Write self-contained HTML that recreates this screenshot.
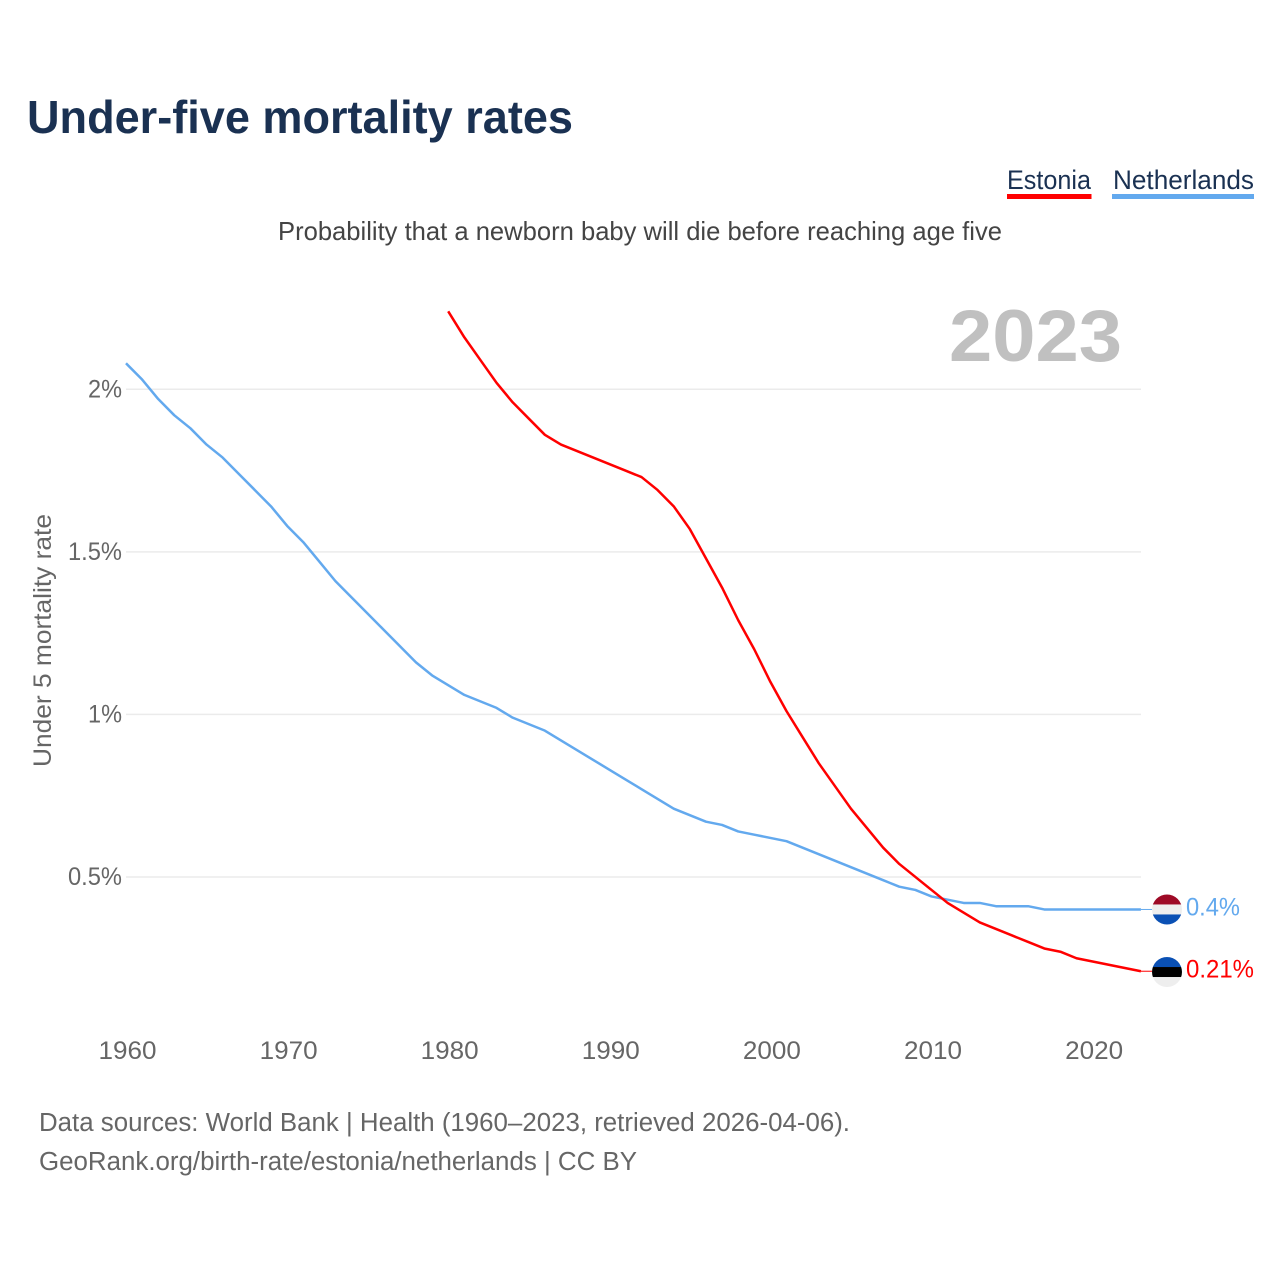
<!DOCTYPE html>
<html lang="en">
<head>
<meta charset="utf-8">
<title>Under-five mortality rates</title>
<style>
  html, body { margin: 0; padding: 0; background: #fff; }
  svg { display: block; font-family: "Liberation Sans", sans-serif; }
  .tick { font-size: 25px; fill: #666; }
  .foot { font-size: 25.5px; fill: #666; }
</style>
</head>
<body>
<svg id="chart" xmlns="http://www.w3.org/2000/svg" width="1280" height="1280" viewBox="0 0 1280 1280">
  <rect width="1280" height="1280" fill="#fff"/>
  <text x="27" y="133" font-size="46" font-weight="700" fill="#1a3152" textLength="546" lengthAdjust="spacingAndGlyphs">Under-five mortality rates</text>

  <g>
    <text x="1007" y="189" font-size="27" fill="#1a3152" textLength="84" lengthAdjust="spacingAndGlyphs">Estonia</text>
    <rect x="1007" y="194" width="84.5" height="5" fill="#ff0000"/>
  </g>
  <g>
    <text x="1113" y="189" font-size="27" fill="#1a3152" textLength="141" lengthAdjust="spacingAndGlyphs">Netherlands</text>
    <rect x="1112" y="194" width="142" height="5" fill="#63a9ee"/>
  </g>

  <text x="278" y="240" font-size="26" fill="#444" textLength="724" lengthAdjust="spacingAndGlyphs">Probability that a newborn baby will die before reaching age five</text>
  <text x="949" y="361" font-size="73" font-weight="700" fill="#c0c0c0" textLength="173" lengthAdjust="spacingAndGlyphs">2023</text>
  <text transform="translate(51 767) rotate(-90)" font-size="25" fill="#666" textLength="253" lengthAdjust="spacingAndGlyphs">Under 5 mortality rate</text>

  <g id="grid"></g>
  <g id="yticks"></g>
  <g id="xticks"></g>
  <g id="series"></g>

  <defs>
    <clipPath id="clip-nl"><circle id="clip-nl-c" r="15"/></clipPath>
    <clipPath id="clip-ee"><circle id="clip-ee-c" r="15"/></clipPath>
  </defs>
  <g id="ends"></g>

  <text class="foot" x="39" y="1131" textLength="811" lengthAdjust="spacingAndGlyphs">Data sources: World Bank | Health (1960–2023, retrieved 2026-04-06).</text>
  <text class="foot" x="39" y="1170" textLength="598" lengthAdjust="spacingAndGlyphs">GeoRank.org/birth-rate/estonia/netherlands | CC BY</text>
</svg>
<script>
const yearStart = 1960;
const netherlandsValues = [2.08,2.03,1.97,1.92,1.88,1.83,1.79,1.74,1.69,1.64,1.58,1.53,1.47,1.41,1.36,1.31,1.26,1.21,1.16,1.12,1.09,1.06,1.04,1.02,0.99,0.97,0.95,0.92,0.89,0.86,0.83,0.80,0.77,0.74,0.71,0.69,0.67,0.66,0.64,0.63,0.62,0.61,0.59,0.57,0.55,0.53,0.51,0.49,0.47,0.46,0.44,0.43,0.42,0.42,0.41,0.41,0.41,0.40,0.40,0.40,0.40,0.40,0.40,0.40];
const estoniaStart = 1980;
const estoniaValues = [2.24,2.16,2.09,2.02,1.96,1.91,1.86,1.83,1.81,1.79,1.77,1.75,1.73,1.69,1.64,1.57,1.48,1.39,1.29,1.20,1.10,1.01,0.93,0.85,0.78,0.71,0.65,0.59,0.54,0.50,0.46,0.42,0.39,0.36,0.34,0.32,0.30,0.28,0.27,0.25,0.24,0.23,0.22,0.21];
const yTickValues = [0.5, 1, 1.5, 2];
const yTickLabels = ["0.5%", "1%", "1.5%", "2%"];
const xTickYears = [1960, 1970, 1980, 1990, 2000, 2010, 2020];
const netherlandsEndLabel = "0.4%";
const estoniaEndLabel = "0.21%";

const NS = "http://www.w3.org/2000/svg";
const xScale = function (year) { return 126 + (year - 1960) * 16.11; };
const yScale = function (v) { return 1039.5 - v * 325.1; };

function make(tag, attrs, parent) {
  const el = document.createElementNS(NS, tag);
  for (const k in attrs) el.setAttribute(k, attrs[k]);
  parent.appendChild(el);
  return el;
}

const gridGroup = document.getElementById("grid");
const yTickGroup = document.getElementById("yticks");
yTickValues.forEach(function (v, i) {
  const line = make("line", { x1: 126, x2: 1141, y1: yScale(v), y2: yScale(v), stroke: "#ebebeb", "stroke-width": 1.5 }, gridGroup);
  
  
  const label = yTickLabels[i];
  const t = make("text", { class: "tick", x: 122, y: yScale(v) + 8, "text-anchor": "end", textLength: label.length > 2 ? 54 : 34, lengthAdjust: "spacingAndGlyphs" }, yTickGroup);
  t.textContent = label;
  
  
});

const xTickGroup = document.getElementById("xticks");
xTickYears.forEach(function (yr) {
  const t = make("text", { class: "tick", x: xScale(yr) + 1.5, y: 1059, "text-anchor": "middle", textLength: 58, lengthAdjust: "spacingAndGlyphs" }, xTickGroup);
  t.textContent = String(yr);
  
  
});

function linePoints(values, start) {
  return values.map(function (v, i) {
    return xScale(start + i).toFixed(2) + "," + yScale(v).toFixed(2);
  }).join(" ");
}

const seriesGroup = document.getElementById("series");
const nlLine = make("polyline", { points: linePoints(netherlandsValues, yearStart), fill: "none", stroke: "#63a9ee", "stroke-width": 2.5, "stroke-linejoin": "round" }, seriesGroup);


const eeLine = make("polyline", { points: linePoints(estoniaValues, estoniaStart), fill: "none", stroke: "#ff0000", "stroke-width": 2.5, "stroke-linejoin": "round" }, seriesGroup);



const endGroup = document.getElementById("ends");
const lastYear = yearStart + netherlandsValues.length - 1;
const flagX = 1167;

function addFlag(parent, clipId, cy, colors) {
  document.getElementById(clipId + "-c").setAttribute("cx", flagX);
  document.getElementById(clipId + "-c").setAttribute("cy", cy);
  const g = make("g", { "clip-path": "url(#" + clipId + ")" }, parent);
  colors.forEach(function (c, i) {
    make("rect", { x: flagX - 15, y: cy - 15 + i * 10, width: 30, height: 10.2, fill: c }, g);
  });
  return g;
}

const nlY = yScale(netherlandsValues[netherlandsValues.length - 1]);
const nlLeader = make("line", { x1: xScale(lastYear), x2: flagX - 15, y1: nlY, y2: nlY, stroke: "#63a9ee", "stroke-width": 1 }, endGroup);


const nlFlag = addFlag(endGroup, "clip-nl", nlY, ["#9e0a26", "#eeeeee", "#0a50b4"]);


const nlText = make("text", { x: 1186, y: nlY + 6, "font-size": 25, fill: "#63a9ee", textLength: 54, lengthAdjust: "spacingAndGlyphs" }, endGroup);
nlText.textContent = netherlandsEndLabel;



const eeY = yScale(estoniaValues[estoniaValues.length - 1]);
const eeLeader = make("line", { x1: xScale(lastYear), x2: flagX - 15, y1: eeY, y2: eeY, stroke: "#ff0000", "stroke-width": 1 }, endGroup);


const eeFlag = addFlag(endGroup, "clip-ee", eeY + 0.8, ["#0a50b4", "#000000", "#eeeeee"]);


const eeText = make("text", { x: 1186, y: eeY + 6.5, "font-size": 25, fill: "#ff0000", textLength: 68, lengthAdjust: "spacingAndGlyphs" }, endGroup);
eeText.textContent = estoniaEndLabel;


</script>
</body>
</html>
